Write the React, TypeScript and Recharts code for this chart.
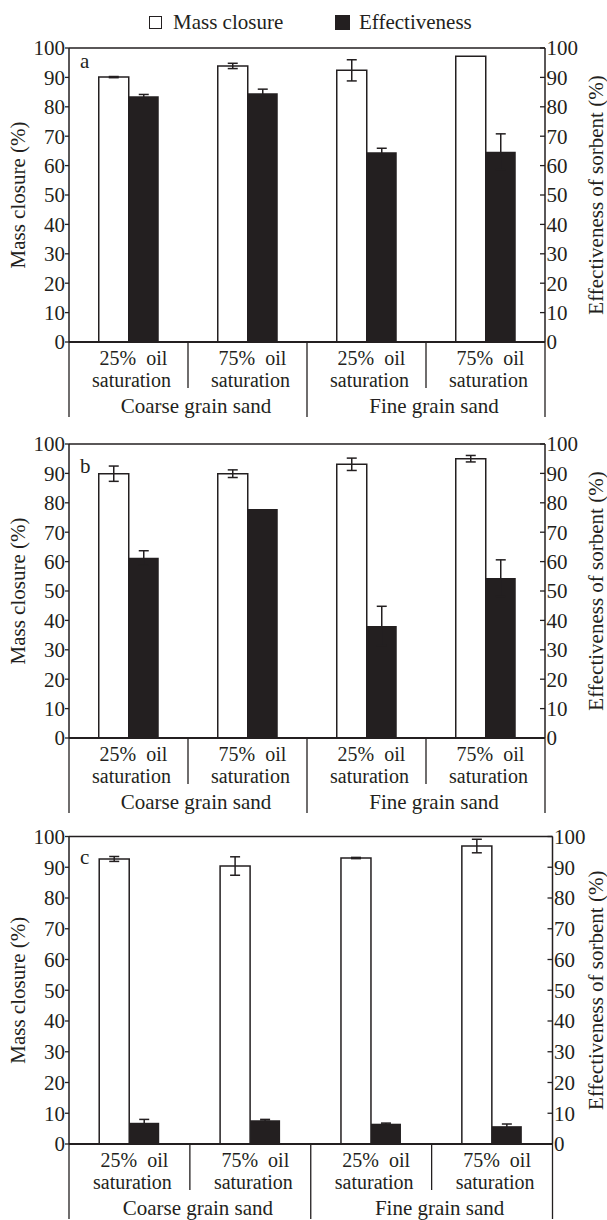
import React from 'react';
import { BarChart, Bar, XAxis, YAxis, ErrorBar, Legend, ReferenceLine } from 'recharts';

const FONT = '"Liberation Serif", "Times New Roman", serif';
const INK = '#231f20';

const seriesNames = ['Mass closure', 'Effectiveness'];
const categories = ['coarse-25', 'coarse-75', 'fine-25', 'fine-75'];
const tickTopLines = ['25%\u00a0\u00a0oil', '75%\u00a0\u00a0oil', '25%\u00a0\u00a0oil', '75%\u00a0\u00a0oil'];
const tickBottomLines = ['saturation', 'saturation', 'saturation', 'saturation'];
const groupLabels = ['Coarse grain sand', 'Fine grain sand'];
const yTicks = [0, 10, 20, 30, 40, 50, 60, 70, 80, 90, 100];

// panel a
const massA = [90.1, 93.9, 92.4, 97.2];
const massErrA = [0.2, 0.9, 3.6, 0];
const effA = [83.6, 84.6, 64.5, 64.7];
const effErrA = [0.6, 1.4, 1.4, 6.1];

// panel b
const massB = [89.9, 89.9, 93.1, 95.0];
const massErrB = [2.6, 1.3, 2.1, 1.1];
const effB = [61.3, 77.9, 38.1, 54.4];
const effErrB = [2.4, 0, 6.7, 6.2];

// panel c
const massC = [92.7, 90.4, 93.0, 96.9];
const massErrC = [0.8, 3.0, 0.2, 2.2];
const effC = [6.9, 7.7, 6.6, 5.8];
const effErrC = [1.1, 0.3, 0.2, 0.7];

const CategoryTick = (props: any) => {
  const { x, y, index, width, visibleTicksCount } = props;
  const count = visibleTicksCount || categories.length;
  const band = width ? width / count : 119;
  const left = x - band / 2;
  const right = x + band / 2;
  const groupStart = index % 2 === 0;
  const textStyle = { fontFamily: FONT, fontSize: 20, fill: INK };
  return (
    <g>
      <line x1={left} x2={left} y1={y} y2={y + (groupStart ? 75 : 46)} stroke={INK} strokeWidth={1.3} />
      {index === count - 1 && (
        <line x1={right} x2={right} y1={y} y2={y + 75} stroke={INK} strokeWidth={1.3} />
      )}
      <text textAnchor="middle" style={textStyle}>
        <tspan x={x + 5} y={y + 23}>{tickTopLines[index]}</tspan>
        <tspan x={x + 3} y={y + 45.3}>{tickBottomLines[index]}</tspan>
      </text>
      {groupStart && (
        <text x={right + 8} y={y + 70.5} textAnchor="middle" style={{ ...textStyle, fontSize: 21 }}>
          {groupLabels[index / 2]}
        </text>
      )}
    </g>
  );
};

const renderLegend = (props: any) => {
  const payload = [...(props.payload || [])].sort(
    (p: any, q: any) => seriesNames.indexOf(p.value) - seriesNames.indexOf(q.value),
  );
  return (
    <div style={{ height: 44, position: 'relative', fontFamily: FONT, fontSize: 21, color: INK }}>
      {payload.map((item: any, i: number) => {
        const hollow = i === 0;
        return (
          <div
            key={item.value}
            style={{
              position: 'absolute',
              left: hollow ? 149 : 335,
              top: 6,
              display: 'flex',
              alignItems: 'center',
              lineHeight: '24px',
              whiteSpace: 'nowrap',
            }}
          >
            <span
              style={{
                display: 'inline-block',
                width: hollow ? 11 : 15,
                height: hollow ? 11 : 15,
                background: hollow ? '#fff' : INK,
                border: hollow ? `1.5px solid ${INK}` : 'none',
                marginRight: hollow ? 11 : 9,
              }}
            />
            <span>{item.value}</span>
          </div>
        );
      })}
    </div>
  );
};

interface PanelProps {
  letter: string;
  letterDy: number;
  mass: number[];
  massErr: number[];
  eff: number[];
  effErr: number[];
  height: number;
  marginTop: number;
  rightWidth: number;
  legend?: boolean;
}

const Panel: React.FC<PanelProps> = ({
  letter, letterDy, mass, massErr, eff, effErr, height, marginTop, rightWidth, legend,
}) => {
  const data = categories.map((cat, i) => ({
    cat,
    mass: mass[i],
    massErr: massErr[i],
    eff: eff[i],
    effErr: effErr[i],
  }));
  const tickStyle = { fontFamily: FONT, fontSize: 21, fill: INK };
  return (
    <BarChart
      width={607}
      height={height}
      data={data}
      margin={{ top: marginTop, right: 0, bottom: 0, left: 0 }}
      barCategoryGap="25%"
      barGap={0}
    >
      {legend && <Legend verticalAlign="top" align="left" content={renderLegend} />}
      <XAxis
        dataKey="cat"
        height={76}
        interval={0}
        tickLine={false}
        tickSize={0}
        tickMargin={0}
        tick={<CategoryTick />}
        axisLine={{ stroke: INK, strokeWidth: 2 }}
      />
      <YAxis
        yAxisId="left"
        width={69}
        domain={[0, 100]}
        ticks={yTicks}
        interval={0}
        tickSize={4}
        tickMargin={0}
        tick={tickStyle}
        tickLine={{ stroke: INK, strokeWidth: 1.3 }}
        axisLine={{ stroke: INK, strokeWidth: 1.5 }}
        label={{
          value: 'Mass closure (%)',
          angle: -90,
          position: 'insideLeft',
          offset: 18,
          style: { textAnchor: 'middle', fontFamily: FONT, fontSize: 21, fill: INK },
        }}
      />
      <YAxis
        yAxisId="right"
        orientation="right"
        width={rightWidth}
        domain={[0, 100]}
        ticks={yTicks}
        interval={0}
        tickSize={-5}
        tickMargin={6.5}
        tick={tickStyle}
        tickLine={{ stroke: INK, strokeWidth: 1.3 }}
        axisLine={{ stroke: INK, strokeWidth: 1.5 }}
        label={{
          value: 'Effectiveness of sorbent (%)',
          angle: -90,
          position: 'insideRight',
          offset: 11,
          style: { textAnchor: 'middle', fontFamily: FONT, fontSize: 21, fill: INK },
        }}
      />
      <ReferenceLine
        yAxisId="left"
        y={100}
        stroke={INK}
        strokeWidth={1.5}
        label={{
          content: (p: any) => (
            <text x={p.viewBox.x + 11} y={p.viewBox.y + letterDy} style={tickStyle}>
              {letter}
            </text>
          ),
        }}
      />
      <Bar
        yAxisId="left"
        dataKey="mass"
        name={seriesNames[0]}
        fill="#ffffff"
        stroke={INK}
        strokeWidth={1.5}
        isAnimationActive={false}
      >
        <ErrorBar dataKey="massErr" width={5} stroke={INK} strokeWidth={1.5} direction="y" isAnimationActive={false} />
      </Bar>
      <Bar
        yAxisId="right"
        dataKey="eff"
        name={seriesNames[1]}
        fill={INK}
        isAnimationActive={false}
      >
        <ErrorBar dataKey="effErr" width={5} stroke={INK} strokeWidth={1.5} direction="y" isAnimationActive={false} />
      </Bar>
    </BarChart>
  );
};

export default function App() {
  return (
    <div style={{ position: 'absolute', left: 0, top: 0, width: 607, background: '#fff' }}>
      <Panel letter="a" letterDy={20} mass={massA} massErr={massErrA} eff={effA} effErr={effErrA}
        height={418} marginTop={4} rightWidth={62} legend />
      <Panel letter="b" letterDy={29} mass={massB} massErr={massErrB} eff={effB} effErr={effErrB}
        height={396} marginTop={26} rightWidth={62} />
      <Panel letter="c" letterDy={27} mass={massC} massErr={massErrC} eff={effC} effErr={effErrC}
        height={406} marginTop={22.5} rightWidth={54.5} />
    </div>
  );
}
